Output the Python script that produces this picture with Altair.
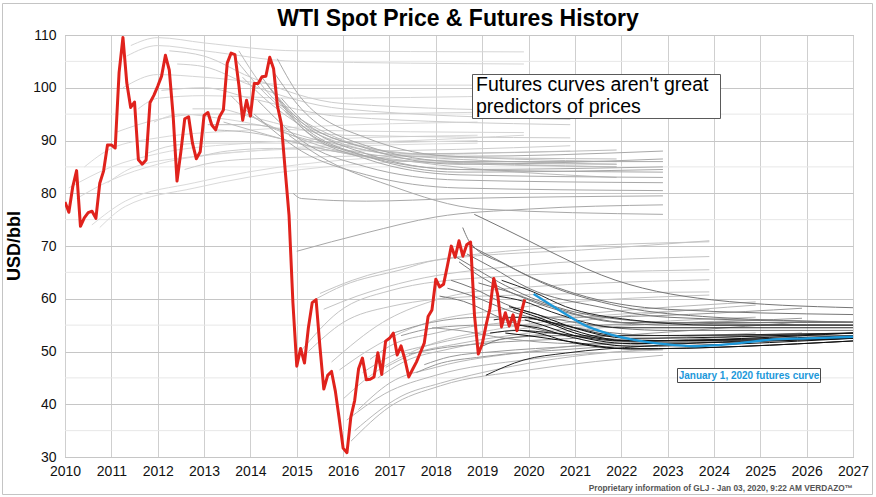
import altair as alt
import pandas as pd

# ---------------- axis values ----------------
x_years = list(range(2010, 2028))
y_major = [30, 40, 50, 60, 70, 80, 90, 100, 110]
y_minor = [35, 45, 55, 65, 75, 85, 95, 105]

# ---------------- monthly WTI spot (USD/bbl) ----------------
spot_2010 = [78.33, 76.39, 81.20, 84.29, 73.74, 75.34, 76.32, 76.60, 75.24, 81.89, 84.25, 89.15]
spot_2011 = [89.17, 88.58, 102.86, 109.53, 100.90, 96.26, 97.30, 86.33, 85.52, 86.32, 97.16, 98.56]
spot_2012 = [100.27, 102.20, 106.16, 103.32, 94.66, 82.30, 87.90, 94.13, 94.51, 89.49, 86.53, 87.86]
spot_2013 = [94.76, 95.31, 92.94, 92.02, 94.51, 95.77, 104.67, 106.57, 106.29, 100.54, 93.86, 97.63]
spot_2014 = [94.62, 100.82, 100.80, 102.07, 102.18, 105.79, 103.59, 96.54, 93.21, 84.40, 75.79, 59.29]
spot_2015 = [47.22, 50.58, 47.82, 54.45, 59.27, 59.82, 50.90, 42.87, 45.48, 46.22, 42.44, 37.19]
spot_2016 = [31.68, 30.82, 37.55, 40.75, 46.71, 48.76, 44.65, 44.72, 45.18, 49.78, 45.66, 51.97]
spot_2017 = [52.50, 53.47, 49.33, 51.06, 48.48, 45.18, 46.63, 48.04, 49.82, 51.58, 56.64, 57.88]
spot_2018 = [63.70, 62.23, 62.73, 66.25, 69.98, 67.87, 70.98, 68.06, 70.23, 70.75, 56.96, 49.52]
spot_2019 = [51.38, 54.95, 58.15, 63.86, 60.83, 54.66, 57.35, 54.81, 56.95, 53.96, 57.03, 59.88]

# ---------------- futures curves: (delivery year, price) knots ----------------
fut_2010 = [
    [(2010.08, 81.0), (2011.0, 85.0), (2012.0, 87.5), (2014.0, 89.5), (2018.9, 91.0)],
    [(2010.25, 79.0), (2011.0, 82.5), (2012.0, 85.5), (2014.0, 88.0), (2018.9, 90.0)],
    [(2010.42, 85.0), (2011.0, 88.5), (2012.0, 90.5), (2014.0, 92.0), (2018.9, 93.5)],
    [(2010.58, 74.0), (2011.3, 78.5), (2012.8, 82.0), (2015.1, 85.5), (2018.9, 87.5)],
    [(2010.75, 73.5), (2011.3, 77.5), (2012.8, 81.0), (2015.1, 84.5), (2018.9, 86.5)],
    [(2010.92, 82.0), (2011.5, 85.0), (2012.8, 87.0), (2015.1, 88.5), (2018.9, 89.5)],
]
fut_2011 = [
    [(2011.08, 91.5), (2012.0, 94.0), (2013.0, 95.0), (2015.0, 95.0), (2019.9, 95.5)],
    [(2011.25, 100.0), (2012.0, 102.5), (2013.0, 102.0), (2015.0, 100.5), (2019.9, 100.5)],
    [(2011.33, 106.0), (2012.0, 108.0), (2013.0, 107.0), (2015.0, 105.0), (2019.9, 104.5)],
    [(2011.42, 108.0), (2012.0, 109.5), (2013.0, 108.5), (2015.0, 107.0), (2019.9, 106.8)],
    [(2011.58, 96.0), (2012.0, 98.0), (2013.0, 98.5), (2015.0, 98.0), (2019.9, 98.5)],
    [(2011.75, 87.5), (2012.3, 89.0), (2013.0, 89.5), (2015.0, 89.5), (2019.9, 91.0)],
    [(2011.92, 93.5), (2012.5, 95.0), (2013.5, 94.0), (2015.0, 92.0), (2019.9, 91.5)],
]
fut_2012 = [
    [(2012.08, 99.5), (2013.0, 100.0), (2014.0, 98.0), (2016.0, 94.5), (2020.9, 93.0)],
    [(2012.25, 107.0), (2013.0, 106.0), (2014.0, 102.0), (2016.0, 97.0), (2020.9, 95.5)],
    [(2012.42, 104.5), (2013.0, 104.0), (2014.0, 100.5), (2016.0, 96.0), (2020.9, 94.0)],
    [(2012.58, 84.5), (2013.0, 85.5), (2014.0, 86.5), (2016.0, 87.0), (2020.9, 88.0)],
    [(2012.75, 96.0), (2013.3, 96.0), (2014.0, 94.5), (2016.0, 91.0), (2020.9, 90.5)],
    [(2012.92, 87.0), (2013.5, 88.0), (2014.5, 88.5), (2016.0, 88.0), (2020.9, 89.0)],
]
fut_2013 = [
    [(2013.08, 93.0), (2014.0, 93.0), (2015.5, 90.0), (2017.5, 87.0), (2021.9, 86.5)],
    [(2013.25, 92.0), (2014.0, 91.5), (2015.5, 88.5), (2017.5, 86.0), (2021.9, 85.5)],
    [(2013.42, 93.5), (2014.0, 92.0), (2015.5, 88.5), (2017.5, 86.0), (2021.9, 85.0)],
    [(2013.58, 98.5), (2014.0, 95.0), (2015.5, 89.5), (2017.5, 86.5), (2021.9, 85.0)],
    [(2013.67, 105.5), (2014.2, 100.0), (2015.5, 91.5), (2017.5, 87.5), (2021.9, 86.0)],
    [(2013.75, 107.0), (2014.2, 101.0), (2015.5, 92.0), (2017.5, 87.5), (2021.9, 88.2)],
    [(2013.83, 102.0), (2014.3, 98.0), (2015.5, 91.0), (2017.5, 87.0), (2021.9, 85.5)],
    [(2013.92, 95.0), (2014.5, 92.5), (2015.5, 89.0), (2017.5, 86.0), (2021.9, 83.0)],
]
fut_2014 = [
    [(2014.08, 95.0), (2015.1, 88.0), (2016.5, 83.5), (2018.5, 81.0), (2022.9, 80.5)],
    [(2014.17, 97.5), (2015.1, 90.0), (2016.5, 85.0), (2018.5, 82.5), (2022.9, 82.0)],
    [(2014.25, 102.0), (2015.1, 92.5), (2016.5, 86.5), (2018.5, 83.5), (2022.9, 83.0)],
    [(2014.33, 101.0), (2015.1, 93.0), (2016.5, 87.0), (2018.5, 84.0), (2022.9, 84.5)],
    [(2014.42, 100.0), (2015.1, 93.5), (2016.5, 87.5), (2018.5, 84.5), (2022.9, 85.0)],
    [(2014.5, 103.0), (2015.1, 96.0), (2016.5, 89.0), (2018.5, 86.0), (2022.9, 86.0)],
    [(2014.58, 105.5), (2015.1, 98.0), (2016.5, 90.5), (2018.5, 87.0), (2022.9, 88.0)],
    [(2014.67, 98.0), (2015.1, 94.0), (2016.5, 88.5), (2018.5, 85.5), (2022.9, 86.5)],
    [(2014.75, 95.5), (2015.1, 92.5), (2016.5, 87.0), (2018.5, 84.5), (2022.9, 84.0)],
    [(2014.83, 91.0), (2015.5, 87.0), (2017.0, 81.5), (2019.0, 77.0), (2022.9, 76.0)],
    [(2014.92, 80.0), (2015.1, 79.0), (2016.5, 78.5), (2018.5, 79.0), (2022.9, 79.5)],
    [(2015.0, 69.0), (2016.5, 72.5), (2018.0, 75.5), (2020.0, 77.0), (2022.9, 77.8)],
]
fut_2015 = [
    [(2015.08, 50.0), (2015.9, 57.5), (2017.0, 61.5), (2019.0, 64.0), (2023.9, 65.5)],
    [(2015.25, 50.0), (2016.0, 55.5), (2017.0, 58.5), (2019.0, 60.5), (2023.9, 61.3)],
    [(2015.42, 60.0), (2016.0, 62.5), (2017.25, 65.5), (2018.0, 67.3), (2021.6, 69.5), (2023.9, 71.0)],
    [(2015.5, 61.0), (2016.2, 63.5), (2017.5, 66.5), (2019.5, 69.0), (2023.9, 70.8)],
    [(2015.58, 58.0), (2016.3, 60.5), (2017.5, 63.5), (2019.5, 66.0), (2023.9, 68.0)],
    [(2015.75, 48.0), (2016.85, 55.5), (2017.9, 59.5), (2019.0, 61.5), (2023.9, 63.6)],
    [(2015.92, 46.5), (2016.5, 50.0), (2017.5, 54.5), (2019.5, 58.0), (2023.9, 60.7)],
    [(2016.0, 41.0), (2016.6, 45.5), (2017.5, 50.0), (2019.5, 54.5), (2023.9, 58.0)],
]
fut_2016 = [
    [(2016.08, 37.0), (2016.9, 42.0), (2018.0, 45.5), (2020.0, 48.5), (2022.9, 50.3)],
    [(2016.17, 33.0), (2017.0, 39.5), (2018.1, 43.5), (2020.0, 46.5), (2022.9, 49.3)],
    [(2016.25, 35.0), (2017.25, 41.5), (2018.1, 44.0), (2019.0, 46.0), (2021.6, 49.7), (2022.9, 50.5)],
    [(2016.33, 39.0), (2017.0, 44.0), (2018.0, 47.0), (2020.0, 50.0), (2024.9, 53.5)],
    [(2016.42, 46.0), (2017.0, 49.0), (2018.0, 51.5), (2020.0, 54.5), (2024.9, 58.8)],
    [(2016.58, 48.5), (2017.0, 51.0), (2018.0, 53.5), (2020.0, 56.0), (2024.9, 59.4)],
    [(2016.75, 45.0), (2017.3, 48.0), (2018.3, 50.5), (2020.0, 53.0), (2024.9, 56.0)],
    [(2016.92, 47.0), (2017.5, 49.5), (2018.5, 51.5), (2020.0, 53.5), (2024.9, 56.5)],
]
fut_2017 = [
    [(2017.08, 53.5), (2017.9, 55.5), (2019.0, 56.5), (2021.0, 56.5), (2025.9, 58.2)],
    [(2017.25, 53.0), (2018.0, 54.5), (2019.0, 55.0), (2021.0, 55.0), (2025.9, 56.3)],
    [(2017.42, 49.5), (2018.0, 50.5), (2019.0, 51.5), (2021.0, 52.5), (2025.9, 55.6)],
    [(2017.58, 46.0), (2018.0, 47.5), (2019.0, 49.0), (2021.0, 50.5), (2025.9, 53.0)],
    [(2017.75, 47.5), (2018.3, 49.0), (2019.3, 50.0), (2021.0, 51.0), (2025.9, 53.5)],
    [(2017.92, 54.5), (2018.5, 54.0), (2019.5, 52.5), (2021.0, 51.5), (2025.9, 52.5)],
]
fut_2018 = [
    [(2018.08, 60.5), (2018.6, 59.5), (2019.5, 56.0), (2021.0, 53.0), (2023.0, 52.0), (2027.0, 52.5)],
    [(2018.25, 62.0), (2018.8, 60.5), (2019.5, 58.0), (2021.0, 54.5), (2023.0, 53.0), (2027.0, 53.0)],
    [(2018.33, 63.5), (2018.8, 62.0), (2019.5, 59.0), (2021.0, 55.5), (2023.0, 54.0), (2027.0, 54.0)],
    [(2018.42, 68.0), (2018.9, 65.5), (2019.5, 62.5), (2021.0, 57.5), (2023.0, 55.5), (2027.0, 55.0)],
    [(2018.5, 67.0), (2019.0, 64.0), (2019.8, 60.5), (2021.0, 57.0), (2023.0, 55.0), (2027.0, 55.0)],
    [(2018.58, 73.5), (2018.75, 70.5), (2019.5, 66.5), (2021.0, 61.0), (2023.0, 58.0), (2027.0, 57.0)],
    [(2018.67, 68.5), (2019.2, 66.0), (2020.0, 62.0), (2021.5, 58.5), (2023.0, 56.5), (2027.0, 55.6)],
    [(2018.75, 70.0), (2019.3, 67.5), (2020.3, 63.0), (2022.0, 58.5), (2024.0, 56.5), (2027.0, 55.6)],
    [(2018.83, 76.0), (2019.0, 75.3), (2020.0, 71.0), (2020.92, 67.0), (2021.57, 64.5), (2023.95, 59.8), (2027.0, 58.3)],
    [(2018.92, 63.0), (2019.5, 61.5), (2020.5, 58.5), (2022.0, 55.5), (2027.0, 55.5)],
    [(2019.0, 51.0), (2019.5, 52.5), (2020.5, 53.0), (2022.0, 53.0), (2027.0, 53.5)],
]
fut_2019 = [
    [(2019.08, 45.5), (2019.9, 48.4), (2020.8, 49.7), (2022.5, 51.0), (2027.0, 52.5)],
    [(2019.17, 53.5), (2019.8, 54.0), (2020.5, 53.5), (2022.0, 52.0), (2027.0, 52.5)],
    [(2019.25, 56.0), (2019.8, 56.5), (2020.5, 55.5), (2022.0, 53.0), (2027.0, 53.5)],
    [(2019.33, 60.5), (2019.9, 59.5), (2020.5, 57.5), (2022.0, 54.5), (2027.0, 54.5)],
    [(2019.42, 63.5), (2020.1, 61.3), (2020.8, 58.5), (2022.2, 56.0), (2024.0, 55.0), (2027.0, 55.0)],
    [(2019.5, 53.5), (2020.0, 53.0), (2020.8, 52.0), (2022.2, 50.5), (2027.0, 52.0)],
    [(2019.58, 58.5), (2020.2, 57.0), (2020.8, 55.0), (2022.2, 52.5), (2027.0, 53.5)],
    [(2019.67, 58.0), (2020.2, 56.5), (2020.8, 54.5), (2022.2, 52.0), (2027.0, 53.5)],
    [(2019.75, 55.0), (2020.2, 54.5), (2020.8, 53.0), (2022.2, 51.0), (2027.0, 52.5)],
    [(2019.83, 54.0), (2020.2, 53.5), (2020.8, 52.0), (2022.2, 50.5), (2027.0, 52.0)],
    [(2019.92, 56.0), (2020.3, 55.0), (2020.8, 53.5), (2022.2, 51.5), (2027.0, 52.5)],
    [(2020.0, 56.5), (2020.4, 55.5), (2021.0, 53.5), (2022.2, 52.0), (2027.0, 53.0)],
]
jan2020_curve = [
    (2020.11, 60.9), (2020.78, 57.2), (2021.21, 55.0), (2021.71, 53.4), (2022.22, 52.3),
    (2022.94, 51.4), (2023.59, 51.0), (2024.45, 51.5), (2025.17, 52.2), (2026.04, 52.5),
    (2027.0, 52.8),
]

# ---------------- styles ----------------
era_shade = {
    2010: "#dadada", 2011: "#d5d5d5", 2012: "#cdcdcd", 2013: "#bcbcbc",
    2014: "#a8a8a8", 2015: "#c4c4c4", 2016: "#b8b8b8", 2017: "#9a9a9a",
    2018: "#767676", 2019: "#262626",
}
FONT = "Liberation Sans"

# ---------------- tables ----------------
spot_all = (spot_2010 + spot_2011 + spot_2012 + spot_2013 + spot_2014
            + spot_2015 + spot_2016 + spot_2017 + spot_2018 + spot_2019)
spot_df = pd.DataFrame({"t": [2010 + i / 12 for i in range(len(spot_all))], "p": spot_all})

rows = []
cid = 0
for yr, curves in [(2010, fut_2010), (2011, fut_2011), (2012, fut_2012), (2013, fut_2013),
                   (2014, fut_2014), (2015, fut_2015), (2016, fut_2016), (2017, fut_2017),
                   (2018, fut_2018), (2019, fut_2019)]:
    for k, curve in enumerate(curves):
        col = era_shade[yr]
        if yr == 2019 and k >= 5:
            col = "#111111"
        for t, p in curve:
            rows.append({"id": f"c{cid:03d}", "t": t, "p": p, "col": col})
        cid += 1
fut_df = pd.DataFrame(rows)
blue_df = pd.DataFrame(jan2020_curve, columns=["t", "p"])
minor_df = pd.DataFrame({"p": y_minor})
one = pd.DataFrame({"a": [0]})

# ---------------- scales / axes ----------------
XS = alt.Scale(domain=[2010, 2027], nice=False, zero=False)
YS = alt.Scale(domain=[30, 110], nice=False, zero=False)
x_axis = alt.Axis(values=x_years, format="d", title=None, labelFont=FONT, labelFontSize=14,
                  labelColor="#111111", labelFlush=False, labelOverlap=False, labelBound=False,
                  labelPadding=7, ticks=False, domain=False, grid=True, gridColor="#cfcfcf")
y_axis = alt.Axis(values=y_major, title=None, labelFont=FONT, labelFontSize=14,
                  labelColor="#111111", labelFlush=False, labelOverlap=False,
                  labelPadding=9, ticks=False, domain=False, grid=True, gridColor="#c6c6c6")


def X(f):
    return alt.X(f, type="quantitative", scale=XS, axis=x_axis)


def Y(f):
    return alt.Y(f, type="quantitative", scale=YS, axis=y_axis)


minor = alt.Chart(minor_df).mark_rule(color="#e7e7e7", strokeWidth=1).encode(y=Y("p"))

futures = alt.Chart(fut_df).mark_line(strokeWidth=1, interpolate="monotone", clip=True).encode(
    x=X("t"), y=Y("p"), color=alt.Color("col:N", scale=None), detail="id:N",
    order=alt.Order("t:Q"))

blue = alt.Chart(blue_df).mark_line(color="#1c98da", strokeWidth=2.3, interpolate="monotone",
                                    clip=True).encode(x=X("t"), y=Y("p"), order=alt.Order("t:Q"))

spot = alt.Chart(spot_df).mark_line(color="#e0221c", strokeWidth=3, strokeJoin="round",
                                    clip=True).encode(x=X("t"), y=Y("p"), order=alt.Order("t:Q"))


def box(x1, x2, y1, y2, stroke, fill="white", width=1.0, op=1.0):
    return alt.Chart(one).mark_rect(fill=fill, fillOpacity=op, stroke=stroke,
                                    strokeWidth=width).encode(
        x=alt.value(x1), x2=alt.value(x2), y=alt.value(y1), y2=alt.value(y2))


def label(txt, x, y, size, weight="normal", color="#000000", align="left", font=FONT,
          angle=0, baseline="alphabetic"):
    return alt.Chart(one).mark_text(text=txt, fontSize=size, fontWeight=weight, color=color,
                                    align=align, baseline=baseline, font=font,
                                    angle=angle).encode(x=alt.value(x), y=alt.value(y))


note_box = box(407.5, 655.5, 39.5, 83.5, "#5a5a5a")
note1 = label("Futures curves aren't great", 411, 56, 19.5)
note2 = label("predictors of prices", 411, 77.5, 19.5)

blue_box = box(612.5, 755.5, 333.5, 347.5, "#4a4a4a")
blue_lbl = label("January 1, 2020 futures curve", 684, 344, 10, weight="bold",
                 color="#1c98da", align="center")

title = label("WTI Spot Price & Futures History", 393, -9, 23, weight="bold", align="center")
ytitle = label("USD/bbl", -50, 211, 18, weight="bold", align="center", angle=270,
               baseline="middle")
footer = label("Proprietary information of GLJ - Jan 03, 2020, 9:22 AM  VERDAZO\u2122",
               788, 456, 8.3, weight="bold", color="#555555", align="right")

outer = box(-62.5, 807.5, -31.5, 459.5, "#c4c4c4", fill="white", op=0)

chart = alt.layer(
    minor, futures, blue, spot, note_box, note1, note2, blue_box, blue_lbl,
    title, ytitle, footer, outer,
).properties(
    width=788, height=422,
    padding={"left": 65, "top": 35, "right": 23, "bottom": 40},
    autosize=alt.AutoSizeParams(type="none"),
).configure(background="white").configure_view(stroke="#acacac", strokeWidth=1)

chart.save("out.html", embed_options={"renderer": "svg", "actions": False})
